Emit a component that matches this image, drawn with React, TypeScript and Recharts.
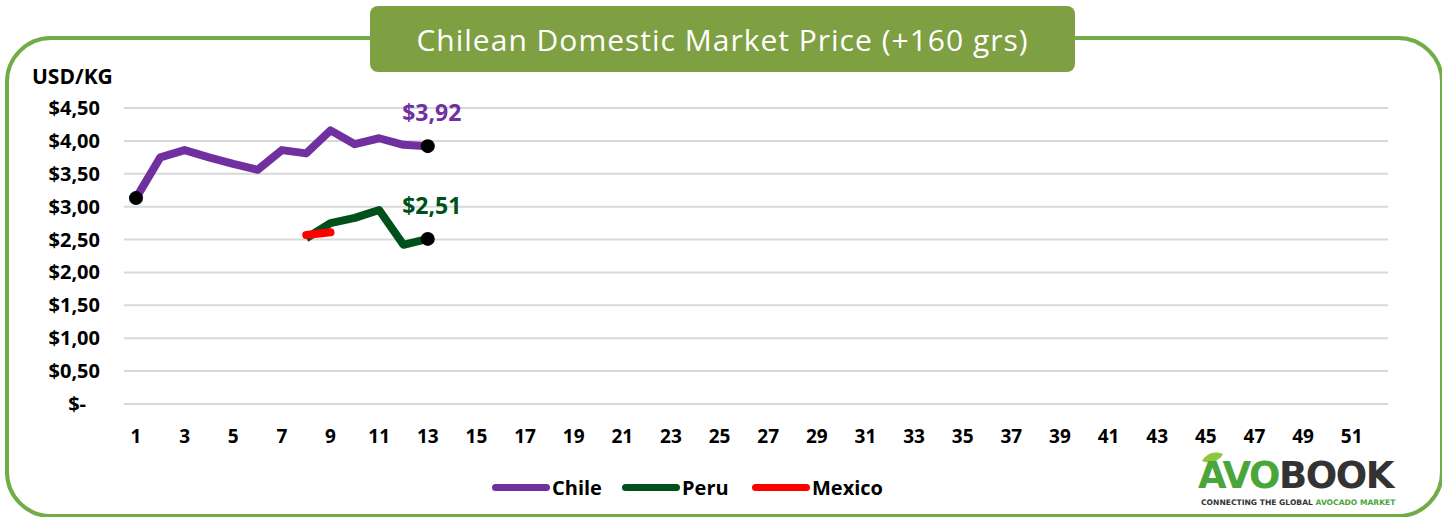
import React from 'react';
import { LineChart, Line, XAxis, YAxis, CartesianGrid } from 'recharts';

const weeks = Array.from({ length: 52 }, (_, i) => String(i + 1));
const chile = [3.13, 3.75, 3.86, 3.75, 3.65, 3.56, 3.86, 3.81, 4.16, 3.95, 4.04, 3.94, 3.92];
const peru = [null, null, null, null, null, null, null, 2.52, 2.75, 2.83, 2.95, 2.42, 2.51];
const mexico = [null, null, null, null, null, null, null, 2.57, 2.61];
const yTicks = [0, 0.5, 1, 1.5, 2, 2.5, 3, 3.5, 4, 4.5];

const data = weeks.map((w, i) => ({
  week: w,
  chile: chile[i] ?? null,
  peru: peru[i] ?? null,
  mexico: mexico[i] ?? null,
}));

const FONT = '"Open Sans", sans-serif';
const money = (v: number) => (v === 0 ? '$-' : '$' + v.toFixed(2).replace('.', ','));

const YTick = (props: any) => {
  const { x, y, payload } = props;
  const v = payload.value;
  return (
    <text x={v === 0 ? x - 30 : x - 16} y={y} dy={7} textAnchor="end" fontFamily={FONT} fontWeight={700} fontSize={20} fill="#000">
      {money(v)}
    </text>
  );
};

const makeDot = (show: number[]) => (props: any) => {
  const { cx, cy, index } = props;
  if (!show.includes(index) || cy == null) return <g key={'d' + index} />;
  return <circle key={'d' + index} cx={cx} cy={cy} r={7} fill="#000" />;
};

const makeLabel = (at: number, color: string) => (props: any) => {
  const { x, y, index, value } = props;
  if (index !== at) return <g key={'l' + index} />;
  return (
    <text key={'l' + index} x={x + 4} y={y - 25} textAnchor="middle" fontFamily={FONT} fontWeight={700} fontSize={23} fill={color}>
      {money(value)}
    </text>
  );
};

const legendItems = [
  { name: 'Chile', color: '#7030a0', left: 492 },
  { name: 'Peru', color: '#00501c', left: 622 },
  { name: 'Mexico', color: '#ff0000', left: 752 },
];

export default function App() {
  return (
    <div style={{ position: 'absolute', left: 0, top: 0, width: 1442, height: 517, background: '#fff', overflow: 'hidden', fontFamily: FONT }}>
      <div style={{ position: 'absolute', left: 5, top: 36, width: 1439, height: 482, border: '4px solid #70ad47', borderRadius: 46, boxSizing: 'border-box' }} />
      <div style={{ position: 'absolute', left: 370, top: 6, width: 705, height: 66, background: '#7f9f43', borderRadius: 8, color: '#fff', fontSize: 30, letterSpacing: 1, display: 'flex', alignItems: 'center', justifyContent: 'center' }}>
        Chilean Domestic Market Price (+160 grs)
      </div>
      <div style={{ position: 'absolute', left: 32, top: 62, fontSize: 21, fontWeight: 700, color: '#000' }}>USD/KG</div>
      <LineChart width={1442} height={517} data={data} margin={{ top: 108, right: 54, bottom: 83, left: 0 }} style={{ position: 'absolute', left: 0, top: 0 }}>
        <CartesianGrid vertical={false} stroke="#d9d9d9" strokeWidth={2} />
        <XAxis dataKey="week" interval={1} padding={{ left: 12, right: 12 }} axisLine={false} tickLine={false} tickMargin={20} tick={{ fill: '#000', fontSize: 19, fontWeight: 700, fontFamily: FONT }} />
        <YAxis width={124} domain={[0, 4.5]} ticks={yTicks} axisLine={false} tickLine={false} tick={YTick} />
        <Line dataKey="chile" stroke="#7030a0" strokeWidth={8} strokeLinejoin="round" dot={makeDot([0, 12])} activeDot={false} label={makeLabel(12, '#7030a0')} isAnimationActive={false} />
        <Line dataKey="peru" stroke="#00501c" strokeWidth={8} strokeLinejoin="round" dot={makeDot([12])} activeDot={false} label={makeLabel(12, '#00501c')} isAnimationActive={false} />
        <Line dataKey="mexico" stroke="#ff0000" strokeWidth={8} strokeLinecap="round" strokeLinejoin="round" dot={false} activeDot={false} isAnimationActive={false} />
      </LineChart>
      {legendItems.map((it) => (
        <div key={it.name} style={{ position: 'absolute', left: it.left, top: 474, display: 'flex', alignItems: 'center', height: 26 }}>
          <div style={{ width: 58, height: 7, borderRadius: 4, background: it.color }} />
          <span style={{ fontSize: 20, fontWeight: 700, color: '#000', marginLeft: 2 }}>{it.name}</span>
        </div>
      ))}
      <div style={{ position: 'absolute', left: 1198, top: 450 }}>
        <svg width={24} height={14} style={{ position: 'absolute', left: 3, top: 1 }}>
          <path d="M1 10 C 6 1, 16 0, 22 3 C 18 11, 8 13, 1 10 Z" fill="#8dc63f" />
        </svg>
        <div style={{ position: 'absolute', left: 0, top: 4, fontFamily: '"DejaVu Sans", sans-serif', fontWeight: 900, fontSize: 37, lineHeight: '43px', letterSpacing: -1.5, whiteSpace: 'nowrap' }}>
          <span style={{ color: '#4aa63a' }}>AVO</span>
          <span style={{ color: '#333' }}>BOOK</span>
        </div>
        <div style={{ position: 'absolute', left: 3, top: 48, lineHeight: '9px', fontFamily: '"DejaVu Sans", sans-serif', fontWeight: 700, fontSize: 7.6, whiteSpace: 'nowrap', color: '#333' }}>
          CONNECTING THE GLOBAL <span style={{ color: '#4aa63a' }}>AVOCADO MARKET</span>
        </div>
      </div>
    </div>
  );
}
